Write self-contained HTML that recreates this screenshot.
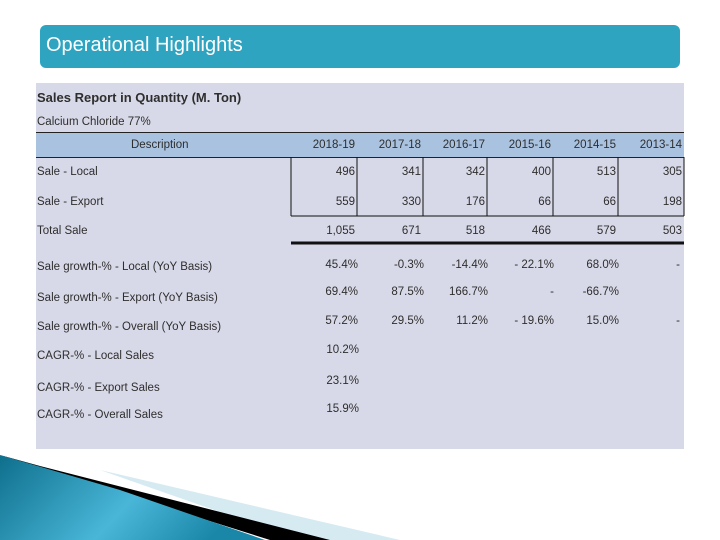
<!DOCTYPE html>
<html><head><meta charset="utf-8"><style>
body{margin:0;width:720px;height:540px;background:#fff;position:relative;overflow:hidden;font-family:"Liberation Sans",sans-serif;color:#2e2e2e}
.t{position:absolute;font-size:11.5px;white-space:nowrap;line-height:14px}
.r{text-align:right}
</style></head><body>
<div style="position:absolute;left:40px;top:25px;width:640px;height:43px;background:#2ea4c1;border-radius:6px"></div>
<div class="t" style="left:46px;top:32px;font-size:20px;line-height:26px;color:#fff">Operational Highlights</div>
<div style="position:absolute;left:36px;top:83px;width:648px;height:366px;background:#d8d9e8"></div>
<div class="t" style="left:37px;top:90px;font-size:13px;font-weight:bold;line-height:16px">Sales Report in Quantity (M. Ton)</div>
<div class="t" style="left:37px;top:115px">Calcium Chloride 77%</div>
<div style="position:absolute;left:36px;top:132px;width:648px;height:24px;background:#a9c2e0;border-top:1px solid #222;border-bottom:1px solid #222"></div>
<div class="t" style="left:131px;top:138px">Description</div>
<svg id="tbl" width="720" height="540" style="position:absolute;left:0;top:0"></svg>
<div id="cells"></div>
<svg width="720" height="540" style="position:absolute;left:0;top:0">
<defs><linearGradient id="g" x1="0" y1="0" x2="1" y2="0.3"><stop offset="0" stop-color="#0e6f8c"/><stop offset="0.6" stop-color="#49b6d8"/><stop offset="1" stop-color="#1a86a8"/></linearGradient></defs>
<polygon points="400,540 100,470 300,540" fill="#d6eaf2"/>
<polygon points="330,540 40,466 0,455 270,540" fill="#000"/>
<polygon points="0,455 0,540 265,540 120,490" fill="url(#g)"/>
</svg>
<script>
const years=["2018-19","2017-18","2016-17","2015-16","2014-15","2013-14"];
const labels=["Sale - Local","Sale - Export","Total Sale","Sale growth-% - Local (YoY Basis)","Sale growth-% - Export (YoY Basis)","Sale growth-% - Overall (YoY Basis)","CAGR-% - Local Sales","CAGR-% - Export Sales","CAGR-% - Overall Sales"];
const local=["496","341","342","400","513","305"];
const exportv=["559","330","176","66","66","198"];
const total=["1,055","671","518","466","579","503"];
const gLocal=["45.4%","-0.3%","-14.4%","- 22.1%","68.0%","-"];
const gExport=["69.4%","87.5%","166.7%","-","-66.7%",""];
const gOverall=["57.2%","29.5%","11.2%","- 19.6%","15.0%","-"];
const cagr=["10.2%","23.1%","15.9%"];
const colR=[357,423,487,553,618,684];
const labelY=[165,195,224,260,291,320,349,381,408];
const valY=[165,195,224,258,285,314,343,374,402];
const cells=document.getElementById('cells');
function txt(s,x,y,right,name){const d=document.createElement('div');d.className='t'+(right?' r':'');


d.textContent=s;d.style.top=y+'px';if(right){d.style.left=(x-80)+'px';d.style.width='80px';}else d.style.left=x+'px';cells.appendChild(d);}
years.forEach((y,i)=>txt(y,colR[i]-2,138,true,'header-year'));
labels.forEach((l,i)=>txt(l,37,labelY[i],false,'row-label'));
[local,exportv,total,gLocal,gExport,gOverall].forEach((row,r)=>row.forEach((v,i)=>{if(v)txt(v,colR[i]-(r<3?2:(i==5?4:-1)),valY[r],true,'cell-value');}));
cagr.forEach((v,i)=>txt(v,359,valY[6+i],true,'cagr-value'));
const svg=document.getElementById('tbl');const ns='http://www.w3.org/2000/svg';
function ln(x1,y1,x2,y2,w){const e=document.createElementNS(ns,'line');e.setAttribute('x1',x1);e.setAttribute('y1',y1);e.setAttribute('x2',x2);e.setAttribute('y2',y2);e.setAttribute('stroke','#111');e.setAttribute('stroke-width',w);


svg.appendChild(e);}
ln(291,157,291,216,1);colR.forEach(x=>ln(x,157,x,216,1));ln(291,216,684,216,1);
ln(291,243,684,243,3);
</script>
</body></html>
